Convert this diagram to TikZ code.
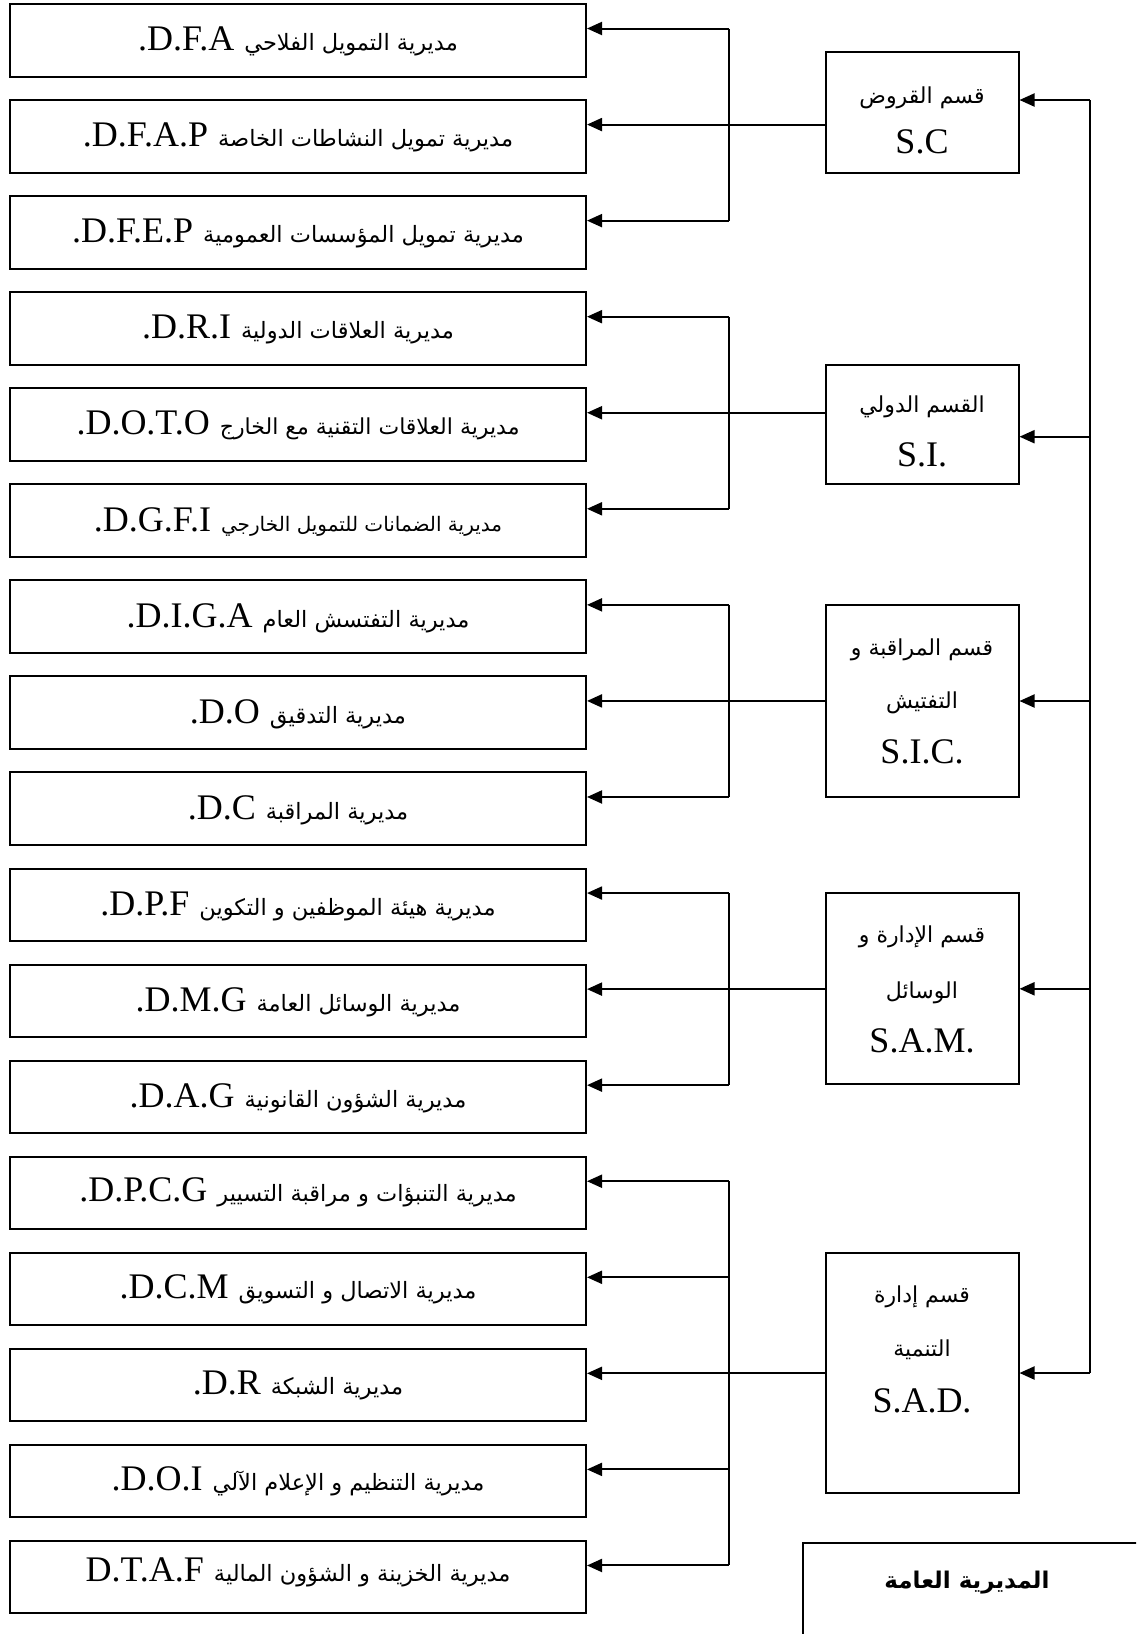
\documentclass[tikz,border=0pt]{standalone}
\usepackage{fontspec}
\setmainfont{Liberation Serif}
\newfontfamily\ar[Script=Arabic]{DejaVu Sans}
\TeXXeTstate=1
\usetikzlibrary{arrows.meta,calc}

\tikzset{
  conn/.style={line width=2pt, draw=black},
  arr/.style={conn, -{Triangle[length=15pt,width=13pt]}},
  lbox/.style={draw, line width=2pt, minimum width=576pt, minimum height=72.5pt, inner sep=0pt},
  sbox/.style={draw, line width=2pt, minimum width=193pt, inner sep=0pt},
  ltext/.style={anchor=base, inner sep=0pt},
  lat/.style={font=\fontsize{36}{40}\selectfont},
  art/.style={font=\ar\fontsize{22}{26}\selectfont},
}
% one directorate box: index, abbreviation, Arabic size, Arabic name, baseline offset
\newcommand{\dirbox}[5]{%
  \pgfmathsetmacro\cy{40.25+96.06*(#1-1)}%
  \node[lbox] (b#1) at (298,\cy) {};
  \node[ltext] (t#1) at (298,\cy+#5) {{\fontsize{36}{40}\selectfont #2}\hspace{10pt}{\ar\fontsize{#3}{26}\selectfont #4}};
  \coordinate (a#1) at ([yshift=11.75pt]b#1.east);
  \coordinate (k#1) at (a#1 -| brx);
}

\begin{document}
\begin{tikzpicture}[x=1pt,y=-1pt]
\useasboundingbox (0,0) rectangle (1136,1634);
\fill[white] (0,0) rectangle (1136,1634);
\clip (0,0) rectangle (1136,1634);

\coordinate (brx) at (729,0);

% directorates
\dirbox{1}{.D.F.A}{22.5}{\beginR مديرية التمويل الفلاحي\endR}{10.5}
\dirbox{2}{.D.F.A.P}{22.5}{\beginR مديرية تمويل النشاطات الخاصة\endR}{10.5}
\dirbox{3}{.D.F.E.P}{22.5}{\beginR مديرية تمويل المؤسسات العمومية\endR}{10.5}
\dirbox{4}{.D.R.I}{22.5}{\beginR مديرية العلاقات الدولية\endR}{10.5}
\dirbox{5}{.D.O.T.O}{22}{\beginR مديرية العلاقات التقنية مع الخارج\endR}{10.5}
\dirbox{6}{.D.G.F.I}{20}{\beginR مديرية الضمانات للتمويل الخارجي\endR}{10.5}
\dirbox{7}{.D.I.G.A}{22.5}{\beginR مديرية التفتسش العام\endR}{10.5}
\dirbox{8}{.D.O}{22.5}{\beginR مديرية التدقيق\endR}{10.5}
\dirbox{9}{.D.C}{22.5}{\beginR مديرية المراقبة\endR}{10.5}
\dirbox{10}{.D.P.F}{22.5}{\beginR مديرية هيئة الموظفين و التكوين\endR}{10.5}
\dirbox{11}{.D.M.G}{22.5}{\beginR مديرية الوسائل العامة\endR}{10.5}
\dirbox{12}{.D.A.G}{22.5}{\beginR مديرية الشؤون القانونية\endR}{10.5}
\dirbox{13}{.D.P.C.G}{22.5}{\beginR مديرية التنبؤات و مراقبة التسيير\endR}{9}
\dirbox{14}{.D.C.M}{22.5}{\beginR مديرية الاتصال و التسويق\endR}{9}
\dirbox{15}{.D.R}{22.5}{\beginR مديرية الشبكة\endR}{9}
\dirbox{16}{.D.O.I}{22.5}{\beginR مديرية التنظيم و الإعلام الآلي\endR}{9}
\dirbox{17}{D.T.A.F}{22.5}{\beginR مديرية الخزينة و الشؤون المالية\endR}{4}

% sections
\node[sbox, minimum height=120.4pt] (SC)  at (922,112.5) {};
\node[sbox, minimum height=119.3pt] (SI)  at (922,424.7) {};
\node[sbox, minimum height=192pt]   (SIC) at (922,701) {};
\node[sbox, minimum height=191pt]   (SAM) at (922,988.8) {};
\node[sbox, minimum height=240pt]   (SAD) at (922,1372.7) {};

\node[ltext, art] (SCa) at (922,103) {\beginR قسم القروض\endR};
\node[ltext, lat] (SCb) at (922,153) {S.C};
\node[ltext, art] (SIa) at (922,412) {\beginR القسم الدولي\endR};
\node[ltext, lat] (SIb) at (922,466.7) {S.I.};
\node[ltext, art] (SICa) at (922,655) {\beginR قسم المراقبة و\endR};
\node[ltext, art] (SICb) at (922,708) {\beginR التفتيش\endR};
\node[ltext, lat] (SICc) at (922,763) {S.I.C.};
\node[ltext, art] (SAMa) at (922,942) {\beginR قسم الإدارة و\endR};
\node[ltext, art] (SAMb) at (922,998) {\beginR الوسائل\endR};
\node[ltext, lat] (SAMc) at (922,1052) {S.A.M.};
\node[ltext, art] (SADa) at (922,1302) {\beginR قسم إدارة\endR};
\node[ltext, art] (SADb) at (922,1356) {\beginR التنمية\endR};
\node[ltext, lat] (SADc) at (922,1412) {S.A.D.};

% general directorate
\node[draw, line width=2pt, anchor=north west, minimum width=400pt, minimum height=200pt] (DG) at (802,1541.5) {};
\node[inner sep=0pt, font=\ar\bfseries\fontsize{23}{28}\selectfont] (DGt) at (967,1583) {\beginR المديرية العامة\endR};

% spine feeding the sections
\coordinate (inSC)  at (1089.5,100);
\coordinate (inSI)  at (1089.5,436.7);
\coordinate (inSIC) at (1089.5,701);
\coordinate (inSAM) at (1089.5,988.8);
\coordinate (inSAD) at (1089.5,1373);
\draw[conn] (inSC) -- (inSAD);
\foreach \s in {SC,SI,SIC,SAM,SAD} {
  \draw[arr] (in\s) -- (in\s -| \s.east);
}

% branches from each section to its directorates
\draw[conn] (k1) -- (k3);
\draw[conn] (k4) -- (k6);
\draw[conn] (k7) -- (k9);
\draw[conn] (k10) -- (k12);
\draw[conn] (k13) -- (k17);
\draw[conn] (SC.west |- k2) -- (k2);
\draw[conn] (SI.west |- k5) -- (k5);
\draw[conn] (SIC.west |- k8) -- (k8);
\draw[conn] (SAM.west |- k11) -- (k11);
\draw[conn] (SAD.west |- k15) -- (k15);
\foreach \i in {1,...,17} {
  \draw[arr] (k\i) -- (a\i);
}
\end{tikzpicture}
\end{document}
